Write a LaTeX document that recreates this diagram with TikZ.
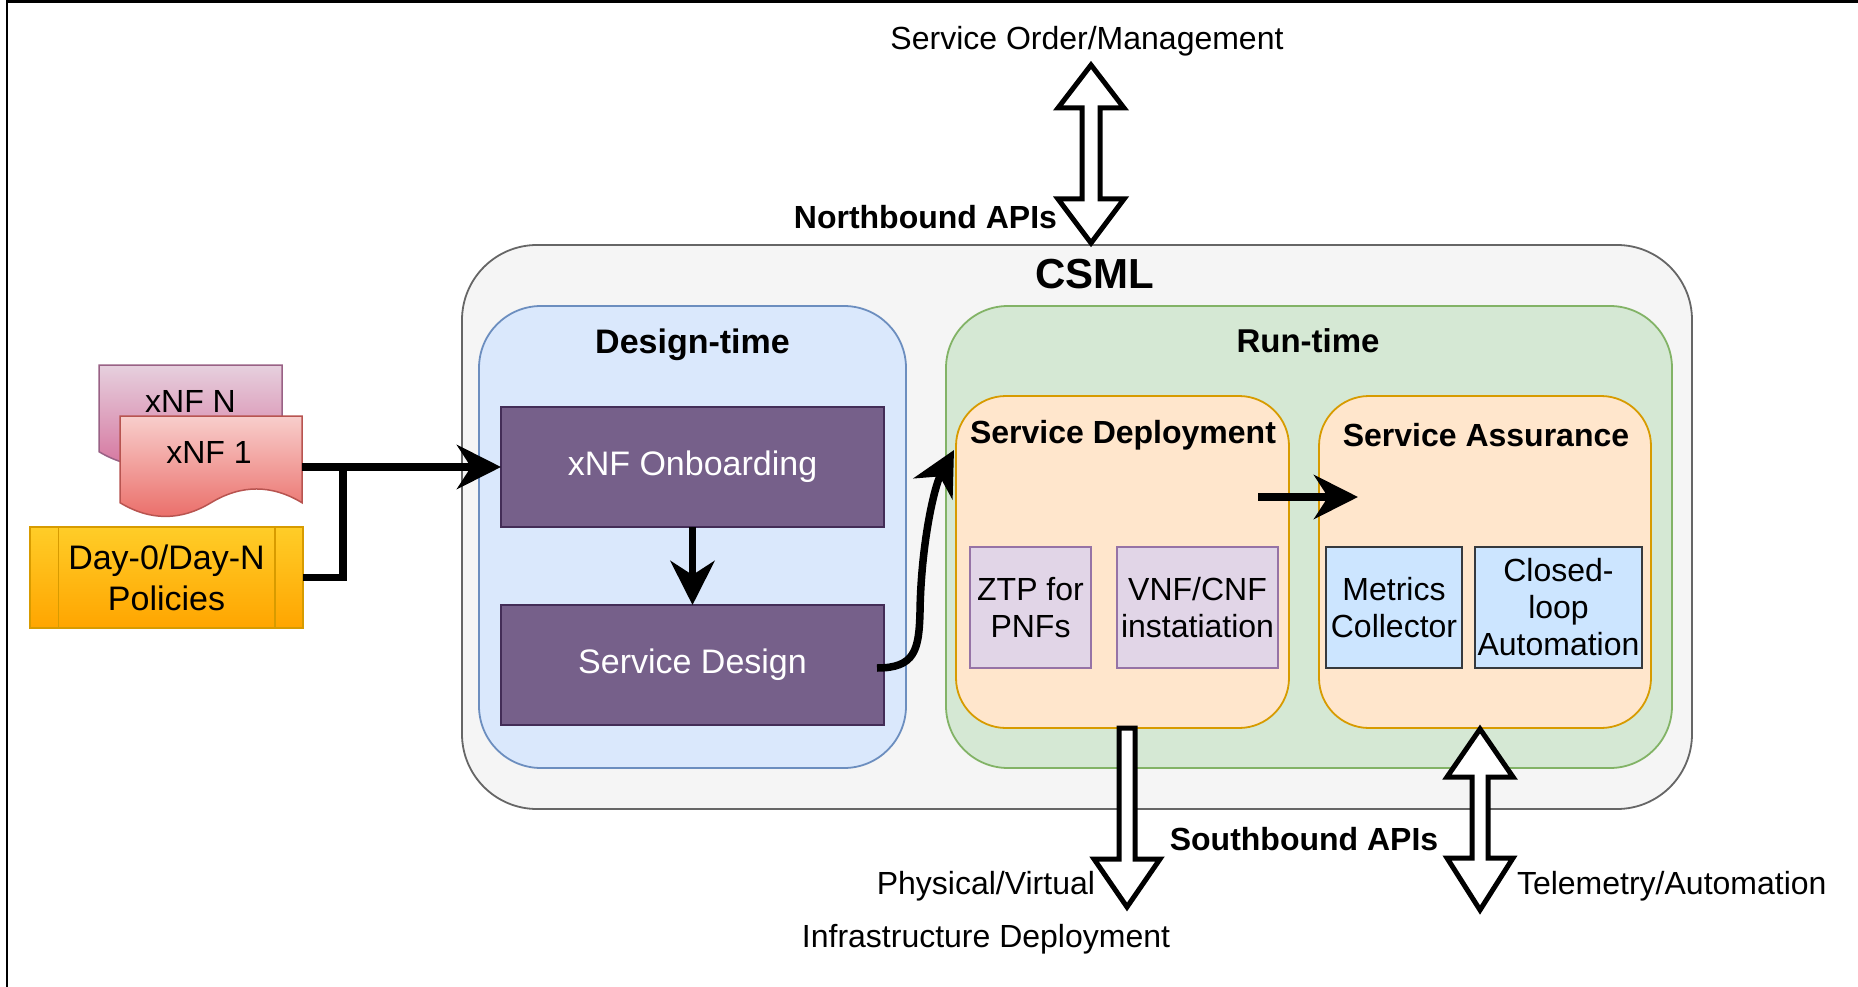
\documentclass[tikz,border=0pt]{standalone}
\usepackage{fontspec}
\setmainfont{Liberation Sans}
\usetikzlibrary{arrows.meta,calc}
\definecolor{csmlF}{HTML}{F5F5F5}
\definecolor{csmlD}{HTML}{666666}
\definecolor{dtF}{HTML}{DAE8FC}
\definecolor{dtD}{HTML}{6C8EBF}
\definecolor{rtF}{HTML}{D5E8D4}
\definecolor{rtD}{HTML}{82B366}
\definecolor{orF}{HTML}{FFE6CC}
\definecolor{orD}{HTML}{D79B00}
\definecolor{puF}{HTML}{76608A}
\definecolor{puD}{HTML}{432D57}
\definecolor{liF}{HTML}{E1D5E7}
\definecolor{liD}{HTML}{9673A6}
\definecolor{blF}{HTML}{CCE5FF}
\definecolor{blD}{HTML}{36393D}
\definecolor{pkT}{HTML}{E6D0DE}
\definecolor{pkB}{HTML}{D5739D}
\definecolor{pkD}{HTML}{996185}
\definecolor{rdT}{HTML}{F8CECC}
\definecolor{rdB}{HTML}{EA6B66}
\definecolor{rdD}{HTML}{B85450}
\definecolor{ylT}{HTML}{FFCD28}
\definecolor{ylB}{HTML}{FFA500}
\definecolor{ylD}{HTML}{D79B00}
\begin{document}
\begin{tikzpicture}[x=1pt,y=-1pt,
  every node/.style={inner sep=0pt, outer sep=0pt},
  reg/.style={font=\fontsize{32}{37}\selectfont, align=center},
  bld/.style={font=\fontsize{32}{37}\selectfont\bfseries, align=center},
  box/.style={rectangle, line width=1.8pt, minimum width=#1},
  conn/.style={line width=7.5pt, -{Stealth[length=44pt,width=44pt,inset=14pt]}},
  thickline/.style={line width=7.5pt},
  blockarrow/.style={draw=black, fill=white, line width=5pt, line join=miter},
]
\useasboundingbox (0,0) rectangle (1858,987);
\fill[white] (0,0) rectangle (1858,987);
% frame
\draw[line width=2.5pt] (7,987) -- (7,1.5) -- (1858,1.5);

% containers
\node[box=1230pt, minimum height=564pt, draw=csmlD, fill=csmlF, rounded corners=75pt] (csml) at (1077,527) {};
\node[bld, font=\fontsize{42}{48}\selectfont\bfseries] (csmlt) at (1095,274) {CSML};
\node[box=427pt, minimum height=462pt, draw=dtD, fill=dtF, rounded corners=62pt] (dt) at (692.5,537) {};
\node[bld, font=\fontsize{34}{40}\selectfont\bfseries] (dtt) at (692.5,345) {Design-time};
\node[box=726pt, minimum height=462pt, draw=rtD, fill=rtF, rounded corners=62pt] (rt) at (1309,537) {};
\node[bld, font=\fontsize{33}{40}\selectfont\bfseries] (rtt) at (1308,341) {Run-time};
\node[box=333pt, minimum height=332pt, draw=orD, fill=orF, rounded corners=50pt] (sdep) at (1122.5,562) {};
\node[bld] (sdept) at (1123,435) {Service Deployment};
\node[box=332pt, minimum height=332pt, draw=orD, fill=orF, rounded corners=50pt] (sass) at (1485,562) {};
\node[bld] (sasst) at (1486,435) {Service Assurance};

% design-time blocks
\node[box=383pt, minimum height=120pt, draw=puD, fill=puF, text=white, font=\fontsize{34}{40}\selectfont] (onb) at (692.5,467) {xNF Onboarding};
\node[box=383pt, minimum height=120pt, draw=puD, fill=puF, text=white, font=\fontsize{34}{40}\selectfont] (sd) at (692.5,665) {Service Design};

% run-time blocks
\node[box=121pt, minimum height=121pt, draw=liD, fill=liF, reg] (ztp) at (1030.5,607.5) {ZTP for\\PNFs};
\node[box=161pt, minimum height=121pt, draw=liD, fill=liF, reg] (vnf) at (1197.5,607.5) {VNF/CNF\\instatiation};
\node[box=136pt, minimum height=121pt, draw=blD, fill=blF, reg] (met) at (1394,607.5) {Metrics\\Collector};
\node[box=167pt, minimum height=121pt, draw=blD, fill=blF, reg] (clo) at (1558.5,607.5) {Closed-\\loop\\Automation};

% xNF documents
\path[draw=pkD, line width=1.5pt, top color=pkT, bottom color=pkB]
  (99,365) -- (282,365) -- (282,451.7)
  .. controls (251.5,433.4) and (221,433.4) .. (190.5,451.7)
  .. controls (160,470) and (129.5,470) .. (99,451.7) -- cycle;
\node[reg] (xnfn) at (190.5,401) {xNF N};
\path[draw=rdD, line width=1.5pt, top color=rdT, bottom color=rdB]
  (120,416) -- (302,416) -- (302,502.7)
  .. controls (271.7,484.4) and (241.3,484.4) .. (211,502.7)
  .. controls (180.7,521) and (150.3,521) .. (120,502.7) -- cycle;
\node[minimum width=182pt, minimum height=102pt] (xnf1) at (211,467) {};
\node[reg] (xnf1t) at (209,452) {xNF 1};

% policies
\node[box=273pt, minimum height=101pt, draw=ylD, top color=ylT, bottom color=ylB, font=\fontsize{34}{41}\selectfont, align=center] (pol) at (166.5,577.5) {Day-0/Day-N\\Policies};
\draw[ylD, line width=1.5pt] ($(pol.north west)+(28.5,0)$) -- ($(pol.south west)+(28.5,0)$);
\draw[ylD, line width=1.5pt] ($(pol.north east)+(-28,0)$) -- ($(pol.south east)+(-28,0)$);

% connectors
\draw[conn] (xnf1.east) -- (onb.west);
\draw[thickline] (pol.east) -| ($(xnf1.east)+(41,0)$);
\draw[conn] (onb.south) -- (sd.north);
\coordinate (cs) at ($(sd.east)+(-7,3)$);
\coordinate (ce) at ($(sdep.west)+(-2,-112)$);
\draw[conn] (cs) .. controls (915,668) and (919,650) .. (920,612)
  .. controls (921,545) and (934,487) .. (ce);
\draw[conn] ($(sdep.east)+(-31,-65)$) -- ($(sass.west)+(39,-65)$);

% northbound
\node[reg] (som) at (1087,41) {Service Order/Management};
\draw[blockarrow] (1091,65) -- (1124,108) -- (1100,108) -- (1100,199) -- (1124,199) -- (1091,243)
  -- (1058,199) -- (1082,199) -- (1082,108) -- (1058,108) -- cycle;
\node[bld, anchor=east] (nb) at (1057,217) {Northbound APIs};

% southbound
\draw[blockarrow] ($(sdep.south)+(-3.5,0)$) -- ++(16,0) -- (1135,859) -- (1160,859) -- (1127,907)
  -- (1094,859) -- (1119,859) -- cycle;
\draw[blockarrow] (1480,729) -- (1513,777) -- (1488,777) -- (1488,858) -- (1513,858) -- (1480,910)
  -- (1447,858) -- (1472,858) -- (1472,777) -- (1447,777) -- cycle;
\node[bld] (sb) at (1304,839) {Southbound APIs};
\node[reg, anchor=east] (pv) at (1095,886) {Physical/Virtual};
\node[reg] (inf) at (986,939) {Infrastructure Deployment};
\node[reg, anchor=west] (tel) at (1517,886) {Telemetry/Automation};
\end{tikzpicture}
\end{document}
